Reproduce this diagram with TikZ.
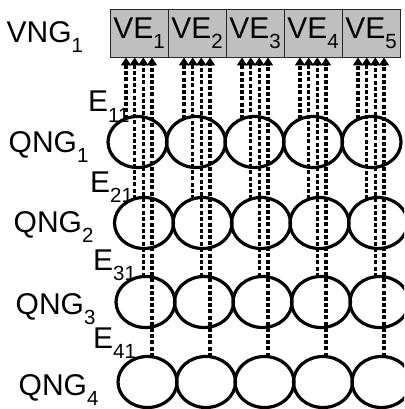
\documentclass[tikz,border=0pt]{standalone}
\usepackage{fontspec}
\setmainfont{Liberation Sans}
\usetikzlibrary{shapes.geometric,arrows.meta,calc}

% label with a lowered, smaller index
\newcommand\sublbl[2]{#1\raisebox{-10pt}{\fontsize{20.5}{21}\selectfont #2}}

\tikzset{
  lbl/.style={anchor=base west, inner sep=0pt, font=\fontsize{30}{32}\selectfont},
  vebox/.style={draw=black!85, line width=0.9pt, fill=black!25, minimum width=58pt,
                minimum height=48pt, inner sep=0pt, font=\fontsize{30}{32}\selectfont},
  qnode/.style={ellipse, draw, line width=3.2pt, minimum width=59pt, minimum height=51pt, inner sep=0pt},
  conn/.style={line width=3.4pt, dash pattern=on 4pt off 2.2pt,
               -{Triangle[length=8pt,width=10pt]}, shorten >=0pt},
}

\begin{document}
\begin{tikzpicture}[x=1pt, y=-1pt]
  \useasboundingbox (0,0) rectangle (404,409);
  \clip (0,0) rectangle (404,409);

  % virtual elements
  \foreach \k in {1,...,5} {
    \node[vebox] (ve\k) at ({139+58*(\k-1)}, 33) {\sublbl{VE}{\k}};
  }

  % element rows
  \foreach \r/\cy/\cx in {1/142/137.5, 2/223/144, 3/302/145.5, 4/382/147.5} {
    \foreach \k in {1,...,5} {
      \node[qnode] (q\r-\k) at ({\cx+58.5*(\k-1)}, \cy) {};
    }
  }

  % edges from each row up to the virtual elements
  \foreach \r/\cx/\off in {1/137.5/-13, 2/144/-4.3, 3/145.5/4.3, 4/147.5/13} {
    \foreach \k in {1,...,5} {
      \pgfmathsetmacro\dx{139+58*(\k-1)+\off-(\cx+58.5*(\k-1))}
      \pgfmathsetmacro\h{25.5*sqrt(1-(\dx/29.5)^2)}
      \coordinate (s\r-\k) at ($(q\r-\k.center)+(\dx,-\h)$);
      \draw[conn] (s\r-\k) -- (s\r-\k |- ve\k.south);
    }
  }

  % labels
  \node[lbl] (vng) at (6.5, 43) {\sublbl{VNG}{1}};
  \node[lbl] (qng1) at (8.5, 152) {\sublbl{QNG}{1}};
  \node[lbl] (qng2) at (13.5, 232) {\sublbl{QNG}{2}};
  \node[lbl] (qng3) at (15.5, 314) {\sublbl{QNG}{3}};
  \node[lbl] (qng4) at (18.5, 395) {\sublbl{QNG}{4}};
  \node[lbl] (e11) at (88, 112) {\sublbl{E}{11}};
  \node[lbl] (e21) at (90, 192) {\sublbl{E}{21}};
  \node[lbl] (e31) at (93, 270) {\sublbl{E}{31}};
  \node[lbl] (e41) at (93, 348) {\sublbl{E}{41}};
\end{tikzpicture}
\end{document}
